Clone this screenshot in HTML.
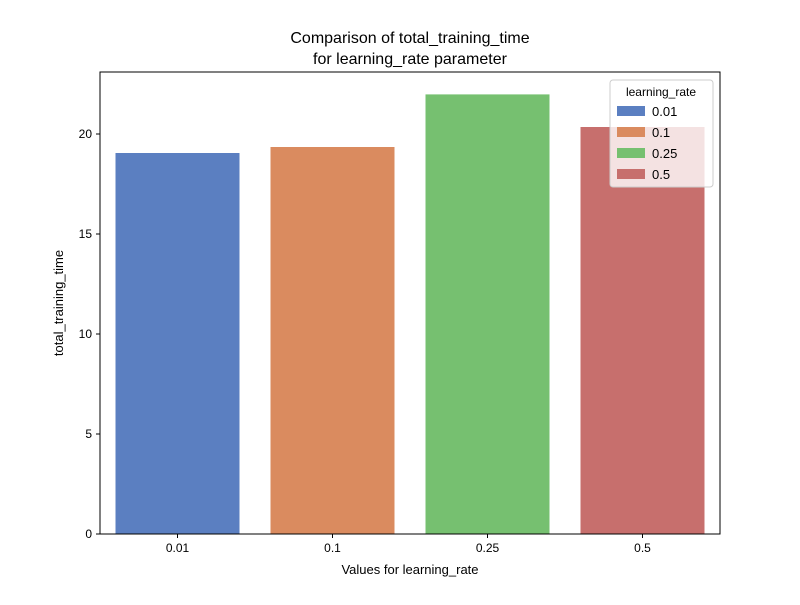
<!DOCTYPE html>
<html><head><meta charset="utf-8"><style>
body{margin:0;background:#fff;}
svg text{font-family:"Liberation Sans","DejaVu Sans",sans-serif;fill:#000;}
</style></head><body>
<svg id="chart" width="800" height="600" xmlns="http://www.w3.org/2000/svg">
<rect width="800" height="600" fill="#fff"/>
<text x="410" y="43" font-size="16" text-anchor="middle">Comparison of total_training_time</text>
<text x="410" y="64" font-size="16" text-anchor="middle">for learning_rate parameter</text>
<g id="bars"></g>
<g id="axes"></g>
<text x="410" y="574" font-size="13" text-anchor="middle">Values for learning_rate</text>
<text transform="translate(63,303) rotate(-90)" font-size="13" text-anchor="middle">total_training_time</text>
<g id="legend"></g>
</svg>
<script>
const categories = ["0.01","0.1","0.25","0.5"];
const values = [19.05, 19.35, 21.98, 20.35];
const colors = ["#5b7fc1","#da8b5f","#76c070","#c76f6d"];
const yTicks = [0,5,10,15,20];
const NS="http://www.w3.org/2000/svg";
const L=100,R=720,T=72,B=534;
const yMax=23.1;
function y(v){return B-(v/yMax)*(B-T);}
const band=(R-L)/categories.length;
function xc(i){return L+band*(i+0.5);}
function mk(tag,attrs,parent){const e=document.createElementNS(NS,tag);for(const k in attrs)e.setAttribute(k,attrs[k]);parent.appendChild(e);return e;}
const bars=document.getElementById('bars'),axes=document.getElementById('axes'),leg=document.getElementById('legend');
categories.forEach((c,i)=>{
  const r=mk('rect',{x:xc(i)-band*0.4,y:y(values[i]),width:band*0.8,height:B-y(values[i]),fill:colors[i]},bars);
  
  
  mk('line',{x1:xc(i),x2:xc(i),y1:B,y2:B+4,stroke:'#000'},axes);
  const t=mk('text',{x:xc(i),y:B+18,'font-size':12,'text-anchor':'middle'},axes);t.textContent=c;
  
  
});
yTicks.forEach(v=>{
  mk('line',{x1:L-4,x2:L,y1:y(v),y2:y(v),stroke:'#000'},axes);
  const t=mk('text',{x:L-8,y:y(v)+4,'font-size':12,'text-anchor':'end'},axes);t.textContent=v;
  
  
});
const fr=mk('rect',{x:L,y:T,width:R-L,height:B-T,fill:'none',stroke:'#000','stroke-width':1},axes);


const lb=mk('rect',{x:610,y:80,width:103,height:107,fill:'#fff','fill-opacity':0.8,stroke:'#ccc',rx:3},leg);


const lt=mk('text',{x:661,y:96,'font-size':12,'text-anchor':'middle'},leg);lt.textContent='learning_rate';


categories.forEach((c,i)=>{
  const yy=106+i*21;
  mk('rect',{x:617,y:yy,width:28,height:10,fill:colors[i]},leg);
  const t=mk('text',{x:652,y:yy+10,'font-size':13},leg);t.textContent=c;
  
  
});
</script>
</body></html>
